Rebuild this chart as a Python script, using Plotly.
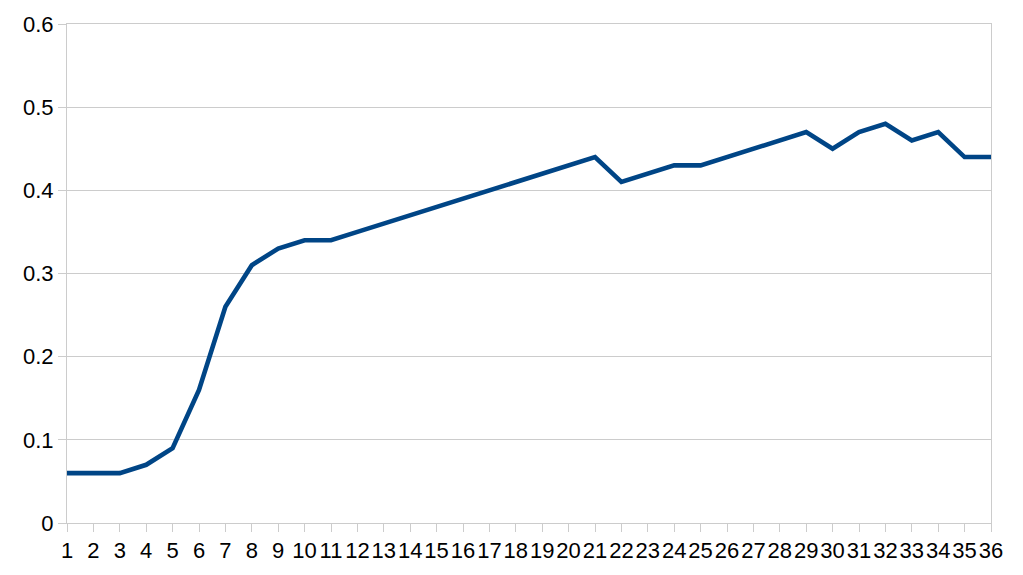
import plotly.graph_objects as go

categories = list(range(1, 37))
values = [0.06, 0.06, 0.06, 0.07, 0.09, 0.16, 0.26, 0.31, 0.33, 0.34,
          0.34, 0.35, 0.36, 0.37, 0.38, 0.39, 0.40, 0.41, 0.42, 0.43,
          0.44, 0.41, 0.42, 0.43, 0.43, 0.44, 0.45, 0.46, 0.47, 0.45,
          0.47, 0.48, 0.46, 0.47, 0.44, 0.44]
y_ticks = [0, 0.1, 0.2, 0.3, 0.4, 0.5, 0.6]

fig = go.Figure()
fig.add_trace(go.Scatter(x=categories, y=values, mode="lines",
                         line=dict(color="#004586", width=4.6), showlegend=False))

grid = "#cccccc"
fig.update_layout(
    width=1015, height=567,
    margin=dict(l=59, r=32, t=16, b=52, autoexpand=False),
    paper_bgcolor="white", plot_bgcolor="white",
    font=dict(family="Liberation Sans, Arial, sans-serif", size=22, color="black"),
    xaxis=dict(range=[1, 36], tickmode="array", tickvals=categories,
               ticktext=[str(c) for c in categories], automargin=False,
               showgrid=False, zeroline=False, showline=True, linecolor=grid,
               linewidth=1, mirror=True, ticks="outside", ticklen=8,
               tickcolor=grid, tickangle=0),
    yaxis=dict(range=[0, 0.6], tickmode="array", tickvals=y_ticks,
               ticktext=["0", "0.1", "0.2", "0.3", "0.4", "0.5", "0.6"],
               automargin=False,
               showgrid=True, gridcolor=grid, zeroline=False, showline=True,
               linecolor=grid, linewidth=1, mirror=True, ticks="outside",
               ticklen=8, tickcolor=grid),
)
fig.write_html("out.html")
